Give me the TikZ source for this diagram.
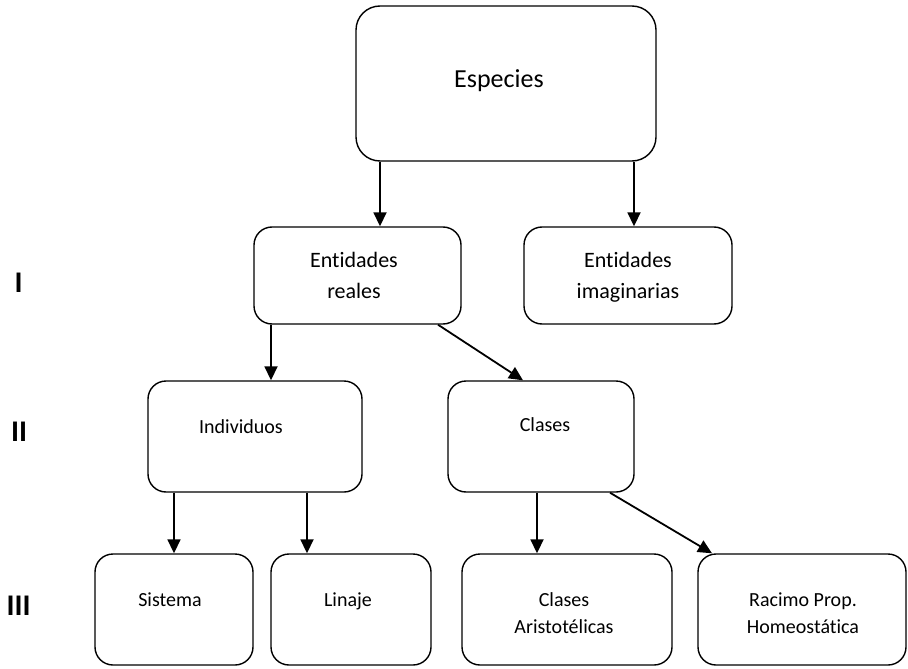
\documentclass[tikz,border=0pt]{standalone}
\usepackage{fontspec}
\setmainfont[Ligatures={NoCommon}]{Carlito}
\usetikzlibrary{arrows.meta}
\begin{document}
\begin{tikzpicture}[x=1pt,y=-1pt,
  box/.style={draw=black,line width=1.4pt,rounded corners=18pt,inner sep=0pt},
  bigbox/.style={box,rounded corners=24pt},
  arr/.style={line width=1.8pt,-{Triangle[length=14pt,width=13pt]}},
  t22/.style={font=\fontsize{22}{26}\selectfont,anchor=base,inner sep=0pt},
  t20/.style={font=\fontsize{20}{24}\selectfont,anchor=base,inner sep=0pt},
  lvl/.style={font=\fontsize{30}{30}\selectfont\bfseries,inner sep=0pt}]
\useasboundingbox (0,0) rectangle (908,669);
% boxes
\node[bigbox,minimum width=300pt,minimum height=155pt] (esp) at (506,83.5) {};
\node[box,minimum width=207pt,minimum height=97pt] (er) at (357.5,275.5) {};
\node[box,minimum width=208pt,minimum height=97pt] (ei) at (628,275.5) {};
\node[box,minimum width=214pt,minimum height=111pt] (ind) at (255,436.5) {};
\node[box,minimum width=186pt,minimum height=111pt] (cla) at (541,436.5) {};
\node[box,minimum width=158pt,minimum height=111pt] (sis) at (174,609.5) {};
\node[box,minimum width=160pt,minimum height=111pt] (lin) at (351,609.5) {};
\node[box,minimum width=210pt,minimum height=111pt] (ca) at (567,609.5) {};
\node[box,minimum width=208pt,minimum height=111pt] (rph) at (802,609.5) {};
% texts
\node[font=\fontsize{26}{30}\selectfont,anchor=base,inner sep=0pt] (tesp) at (499,88) {Especies};
\node[t22] (ter1) at (354,267) {Entidades};
\node[t22] (ter2) at (354,298) {reales};
\node[t22] (tei1) at (628,267) {Entidades};
\node[t22] (tei2) at (628,298) {imaginarias};
\node[t20] (tind) at (241,433) {Individuos};
\node[t20] (tcla) at (545,431) {Clases};
\node[t20] (tsis) at (170,606) {Sistema};
\node[t20] (tlin) at (348,606) {Linaje};
\node[t20] (tca1) at (564,606) {Clases};
\node[t20] (tca2) at (564,633) {Aristotélicas};
\node[t20] (trph1) at (803,606) {Racimo Prop.};
\node[t20] (trph2) at (803,633) {Homeostática};
% level labels
\node[lvl] (l1) at (18.5,283) {I};
\node[lvl] (l2) at (19,432) {II};
\node[lvl] (l3) at (18.5,606) {III};
% arrows
\draw[arr] (esp.south -| 380,0) -- (er.north -| 380,0);
\draw[arr] (esp.south -| 634,0) -- (ei.north -| 634,0);
\draw[arr] (er.south -| 271,0) -- (ind.north -| 271,0);
\draw[arr] (er.south -| 438,0) -- (cla.north -| 523,0);
\draw[arr] (ind.south -| 174,0) -- (sis.north -| 174,0);
\draw[arr] (ind.south -| 307,0) -- (lin.north -| 307,0);
\draw[arr] (cla.south -| 537,0) -- (ca.north -| 537,0);
\draw[arr] (cla.south -| 610,0) -- (rph.north -| 712,0);
\end{tikzpicture}
\end{document}
